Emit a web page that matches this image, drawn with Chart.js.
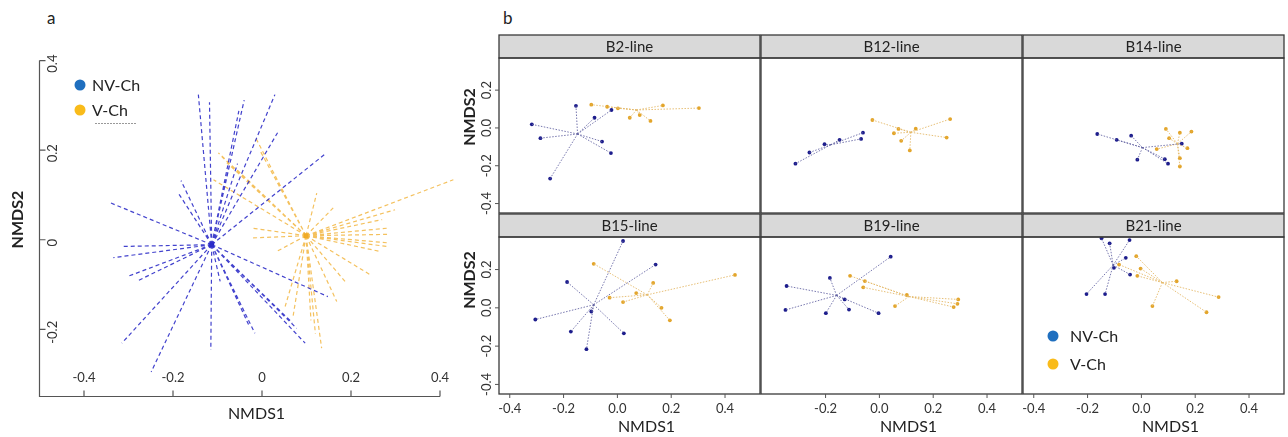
<!DOCTYPE html>
<html>
<head>
<meta charset="utf-8">
<script src="https://cdn.jsdelivr.net/npm/chart.js@4.4.1/dist/chart.umd.min.js"></script>
<style>
body{margin:0;background:#fff;width:1288px;height:437px;position:relative;overflow:hidden;font-family:Lato,sans-serif}
canvas{position:absolute}
.lbl{position:absolute;font-size:17px;color:#222;line-height:20px}
</style>
</head>
<body>
<div class="lbl" style="left:47px;top:8px">a</div>
<div class="lbl" style="left:503px;top:8px">b</div>
<canvas id="cA"></canvas>
<canvas id="f0"></canvas>
<canvas id="f1"></canvas>
<canvas id="f2"></canvas>
<canvas id="f3"></canvas>
<canvas id="f4"></canvas>
<canvas id="f5"></canvas>
<script>
// groups and facets
const groups = ['NV-Ch', 'V-Ch'];
const facetNames = ['B2-line', 'B12-line', 'B14-line', 'B15-line', 'B19-line', 'B21-line'];

// tick values / labels
const aXTicks = [-0.4, -0.2, 0, 0.2, 0.4];
const aXTickLabels = ['-0.4', '-0.2', '0', '0.2', '0.4'];
const aYTicks = [0.4, 0.2, 0, -0.2];
const aYTickLabels = ['0.4', '0.2', '0', '-0.2'];
const bXTicks = [-0.4, -0.2, 0, 0.2, 0.4];
const bXTickLabels = ['-0.4', '-0.2', '0.0', '0.2', '0.4'];
const bYTicks = [0.2, 0, -0.2, -0.4];
const bYTickLabels = ['0.2', '0.0', '-0.2', '-0.4'];

// panel a : all samples
const aNvCen = [-0.113, -0.011];
const aNvPts = [[-0.143,0.324],[-0.118,0.307],[-0.072,0.172],[-0.055,0.170],[-0.040,0.312],[-0.052,0.288],
  [0.029,0.324],[0.035,0.239],[0.145,0.194],[-0.182,0.132],[-0.188,0.104],[-0.342,0.083],[-0.315,-0.015],
  [-0.334,-0.040],[-0.302,-0.082],[-0.282,-0.093],[-0.315,-0.231],[-0.249,-0.295],[-0.115,-0.246],
  [-0.094,-0.093],[-0.016,-0.209],[-0.030,-0.190],[0.078,-0.198],[0.068,-0.185],[0.097,-0.231],[0.148,-0.127]];
const aVCen = [0.099, 0.009];
const aVPts = [[-0.098,0.194],[-0.090,0.185],[-0.079,0.172],[-0.060,0.160],[-0.109,0.134],[-0.016,0.231],
  [-0.005,0.200],[-0.045,0.145],[-0.023,0.026],[-0.023,0.004],[0.123,0.104],[0.160,0.071],[0.430,0.134],
  [0.299,0.067],[0.270,0.045],[0.284,0.026],[0.284,0.012],[0.284,-0.007],[0.280,-0.015],[0.265,-0.026],
  [0.243,-0.078],[0.190,-0.097],[0.168,-0.138],[0.134,-0.242],[0.120,-0.210],[0.110,-0.180],[0.070,-0.170],
  [0.052,-0.149],[0.035,-0.025]];

// panel b : per line
const b2NvCen = [-0.148, -0.032];
const b2NvPts = [[-0.154,0.117],[-0.318,0.019],[-0.286,-0.054],[-0.085,0.054],[-0.022,0.095],[-0.057,-0.072],[-0.024,-0.133],[-0.250,-0.268]];
const b2VCen = [0.071, 0.095];
const b2VPts = [[-0.097,0.123],[-0.038,0.112],[0.002,0.104],[0.046,0.054],[0.083,0.068],[0.123,0.037],[0.169,0.119],[0.303,0.105]];

const b12NvCen = [-0.181, -0.089];
const b12NvPts = [[-0.312,-0.189],[-0.260,-0.130],[-0.204,-0.086],[-0.148,-0.063],[-0.061,-0.025],[-0.068,-0.058]];
const b12VCen = [0.117, -0.023];
const b12VPts = [[-0.026,0.042],[0.071,-0.005],[0.054,-0.028],[0.081,-0.068],[0.113,-0.119],[0.135,-0.004],[0.250,-0.051],[0.263,0.047]];

const b14NvCen = [0.004, -0.104];
const b14NvPts = [[-0.164,-0.032],[-0.092,-0.063],[-0.038,-0.041],[-0.015,-0.168],[0.087,-0.165],[0.099,-0.189],[0.150,-0.083]];
const b14VCen = [0.134, -0.084];
const b14VPts = [[0.091,-0.005],[0.103,-0.054],[0.143,-0.025],[0.186,-0.019],[0.171,-0.107],[0.057,-0.112],[0.143,-0.160],[0.143,-0.204]];

const b15NvCen = [-0.088, 0.016];
const b15NvPts = [[0.021,0.349],[0.142,0.226],[-0.187,0.135],[-0.305,-0.061],[-0.173,-0.124],[-0.115,-0.216],[-0.097,-0.019],[0.024,-0.133]];
const b15VCen = [0.111, 0.068];
const b15VPts = [[-0.088,0.230],[0.133,0.130],[0.070,0.077],[-0.029,0.053],[0.021,0.030],[0.164,0.000],[0.195,-0.065],[0.437,0.172]];

const b19NvCen = [-0.159, 0.065];
const b19NvPts = [[0.042,0.267],[-0.184,0.156],[-0.345,0.114],[-0.349,-0.011],[-0.199,-0.028],[-0.129,0.044],[-0.113,-0.009],[-0.003,-0.028]];
const b19VCen = [0.110, 0.059];
const b19VPts = [[-0.109,0.167],[-0.054,0.140],[-0.060,0.107],[0.102,0.067],[0.058,0.009],[0.293,0.044],[0.290,0.021],[0.276,0.004]];

const b21NvCen = [-0.105, 0.223];
const b21NvPts = [[-0.148,0.363],[-0.118,0.337],[-0.044,0.354],[-0.058,0.261],[-0.102,0.209],[-0.042,0.174],[-0.135,0.072],[-0.204,0.072]];
const b21VCen = [0.078, 0.132];
const b21VPts = [[-0.083,0.226],[-0.019,0.270],[-0.003,0.205],[-0.015,0.167],[0.131,0.139],[0.287,0.056],[0.041,0.009],[0.242,-0.023]];

// colours
const legendColors = ['#1f6fbf', '#f9bb1a'];
const aLineColors = ['rgba(45,45,200,0.9)', 'rgba(240,172,40,0.75)'];
const bPointColors = ['#1c1c8c', '#e3a52a'];
const bLineColors = ['rgba(95,95,160,0.85)', 'rgba(228,185,105,0.9)'];

const facets = [
  {nv: b2NvPts, nvc: b2NvCen, v: b2VPts, vc: b2VCen},
  {nv: b12NvPts, nvc: b12NvCen, v: b12VPts, vc: b12VCen},
  {nv: b14NvPts, nvc: b14NvCen, v: b14VPts, vc: b14VCen},
  {nv: b15NvPts, nvc: b15NvCen, v: b15VPts, vc: b15VCen},
  {nv: b19NvPts, nvc: b19NvCen, v: b19VPts, vc: b19VCen},
  {nv: b21NvPts, nvc: b21NvCen, v: b21VPts, vc: b21VCen}
];

// layout of the facet grid (page pixels)
const colLeft = [499, 761, 1023];
const rowTop = [58, 237];
const rowH = [155, 157];
const panelW = 261;
const PL = 45, PT = 24, PR = 4, PB = 44;

function spokes(cen, pts) {
  const out = [];
  pts.forEach(p => {
    out.push({x: cen[0], y: cen[1]}, {x: p[0], y: p[1]}, {x: null, y: null});
  });
  return out;
}
function asXY(pts) { return pts.map(p => ({x: p[0], y: p[1]})); }

function vText(ctx, t, x, y) {
  ctx.save();
  ctx.translate(x, y);
  ctx.rotate(-Math.PI / 2);
  ctx.textAlign = 'center';
  ctx.textBaseline = 'middle';
  ctx.fillText(t, 0, 0);
  ctx.restore();
}

const deco = {
  id: 'deco',
  afterDraw(chart, args, o) {
    const ctx = chart.ctx, a = chart.chartArea, xs = chart.scales.x, ys = chart.scales.y;
    ctx.save();
    ctx.fillStyle = '#333';
    ctx.strokeStyle = '#555';
    if (o.kind === 'a') {
      // L shaped axes, ticks pointing inward
      ctx.lineWidth = 1.2;
      ctx.beginPath();
      ctx.moveTo(a.left, ys.getPixelForValue(0.4));
      ctx.lineTo(a.left, a.bottom);
      ctx.lineTo(xs.getPixelForValue(0.4), a.bottom);
      aXTicks.forEach(v => {
        const px = xs.getPixelForValue(v);
        ctx.moveTo(px, a.bottom);
        ctx.lineTo(px, a.bottom - 6);
      });
      aYTicks.forEach(v => {
        const py = ys.getPixelForValue(v);
        ctx.moveTo(a.left, py);
        ctx.lineTo(a.left + 6, py);
      });
      ctx.stroke();
      ctx.font = '13px Lato';
      ctx.textAlign = 'center';
      ctx.textBaseline = 'middle';
      aXTicks.forEach((v, i) => ctx.fillText(aXTickLabels[i], xs.getPixelForValue(v), a.bottom - 19));
      aYTicks.forEach((v, i) => vText(ctx, aYTickLabels[i], a.left + 13, ys.getPixelForValue(v) + 3));
      ctx.fillStyle = '#222';
      ctx.font = '16px Lato';
      ctx.fillText('NMDS1', a.left + 217, a.bottom + 17);
      ctx.font = 'bold 16px Lato';
      vText(ctx, 'NMDS2', 18, (a.top + a.bottom) / 2 - 9);
      // legend
      ctx.font = '16px Lato';
      ctx.textAlign = 'left';
      groups.forEach((g, i) => {
        ctx.fillStyle = legendColors[i];
        ctx.beginPath();
        ctx.arc(80, 85 + i * 25, 5.5, 0, Math.PI * 2);
        ctx.fill();
        ctx.fillStyle = '#222';
        ctx.fillText(g, 92, 86 + i * 25);
      });
      ctx.strokeStyle = '#999';
      ctx.lineWidth = 1;
      ctx.setLineDash([2, 1]);
      ctx.beginPath();
      ctx.moveTo(95, 123.5);
      ctx.lineTo(137, 123.5);
      ctx.stroke();
    } else {
      const f = o.idx, col = f % 3, row = Math.floor(f / 3);
      // strip
      ctx.fillStyle = '#d9d9d9';
      ctx.fillRect(a.left, a.top - 23, a.right - a.left, 23);
      ctx.strokeStyle = '#3a3a3a';
      ctx.lineWidth = 1.3;
      ctx.strokeRect(a.left, a.top - 23, a.right - a.left, 23);
      ctx.strokeRect(a.left, a.top, a.right - a.left, a.bottom - a.top);
      ctx.fillStyle = '#222';
      ctx.font = '15px Lato';
      ctx.textAlign = 'center';
      ctx.textBaseline = 'middle';
      ctx.fillText(facetNames[f], (a.left + a.right) / 2, a.top - 11);
      ctx.strokeStyle = '#555';
      ctx.lineWidth = 1;
      if (row === 1) {
        ctx.font = '13px Lato';
        ctx.fillStyle = '#333';
        bXTicks.forEach((v, i) => {
          if (col === 1 && v < -0.3) return;
          const px = xs.getPixelForValue(v);
          ctx.beginPath();
          ctx.moveTo(px, a.bottom);
          ctx.lineTo(px, a.bottom + 4);
          ctx.stroke();
          ctx.fillText(bXTickLabels[i], px, a.bottom + 15);
        });
        ctx.fillStyle = '#222';
        ctx.font = '16px Lato';
        ctx.fillText('NMDS1', (a.left + a.right) / 2 + 17, a.bottom + 33);
      }
      if (col === 0) {
        ctx.font = '13px Lato';
        ctx.fillStyle = '#333';
        bYTicks.forEach((v, i) => {
          const py = ys.getPixelForValue(v);
          ctx.beginPath();
          ctx.moveTo(a.left, py);
          ctx.lineTo(a.left - 4, py);
          ctx.stroke();
          vText(ctx, bYTickLabels[i], a.left - 12, py);
        });
        ctx.fillStyle = '#222';
        ctx.font = 'bold 16px Lato';
        vText(ctx, 'NMDS2', a.left - 29, row === 0 ? a.top + 59 : a.top + 43);
      }
      if (f === 5) {
        ctx.font = '16px Lato';
        ctx.textAlign = 'left';
        groups.forEach((g, i) => {
          ctx.fillStyle = legendColors[i];
          ctx.beginPath();
          ctx.arc(a.left + 30, a.top + 99 + i * 28, 5.5, 0, Math.PI * 2);
          ctx.fill();
          ctx.fillStyle = '#222';
          ctx.fillText(g, a.left + 47, a.top + 100 + i * 28);
        });
      }
    }
    ctx.restore();
  }
};

function place(id, left, top, w, h) {
  const c = document.getElementById(id);
  c.width = w; c.height = h;
  c.style.left = left + 'px'; c.style.top = top + 'px';
  c.style.width = w + 'px'; c.style.height = h + 'px';
  return c;
}

// panel a
const cA = place('cA', 0, 0, 480, 437);
new Chart(cA, {
  type: 'scatter',
  data: {
    datasets: [
      {data: spokes(aNvCen, aNvPts), showLine: true, borderColor: aLineColors[0], borderWidth: 1.2, borderDash: [4, 3], pointRadius: 0, clip: false},
      {data: spokes(aVCen, aVPts), showLine: true, borderColor: aLineColors[1], borderWidth: 1.2, borderDash: [4, 3], pointRadius: 0, clip: false},
      {data: asXY([aNvCen]), pointStyle: 'rect', pointRadius: 3.5, backgroundColor: '#1e1ec8', borderWidth: 0},
      {data: asXY([aVCen]), pointStyle: 'rect', pointRadius: 3.5, backgroundColor: '#f0a820', borderWidth: 0}
    ]
  },
  options: {
    responsive: false, animation: false,
    layout: {padding: {left: 39.5, top: 60.6, right: 40, bottom: 40.5}},
    scales: {
      x: {type: 'linear', min: -0.5, max: 0.4, display: false},
      y: {type: 'linear', min: -0.35, max: 0.4, display: false}
    },
    plugins: {legend: {display: false}, tooltip: {enabled: false}, deco: {kind: 'a'}}
  },
  plugins: [deco]
});

// panel b
facets.forEach((fc, i) => {
  const col = i % 3, row = Math.floor(i / 3);
  const c = place('f' + i, colLeft[col] - PL, rowTop[row] - PT, panelW + PL + PR, rowH[row] + PT + PB);
  new Chart(c, {
    type: 'scatter',
    data: {
      datasets: [
        {data: spokes(fc.nvc, fc.nv), showLine: true, borderColor: bLineColors[0], borderWidth: 1, borderDash: [1.5, 1.5], pointRadius: 0},
        {data: spokes(fc.vc, fc.v), showLine: true, borderColor: bLineColors[1], borderWidth: 1, borderDash: [1.5, 1.5], pointRadius: 0},
        {data: asXY(fc.nv), pointRadius: 1.9, backgroundColor: bPointColors[0], borderWidth: 0},
        {data: asXY(fc.v), pointRadius: 1.9, backgroundColor: bPointColors[1], borderWidth: 0}
      ]
    },
    options: {
      responsive: false, animation: false,
      layout: {padding: {left: PL, top: PT, right: PR, bottom: PB}},
      scales: {
        x: {type: 'linear', min: -0.44, max: 0.53, display: false},
        y: {type: 'linear', min: -0.45, max: 0.37, display: false}
      },
      plugins: {legend: {display: false}, tooltip: {enabled: false}, deco: {kind: 'b', idx: i}}
    },
    plugins: [deco]
  });
});
</script>
</body>
</html>
